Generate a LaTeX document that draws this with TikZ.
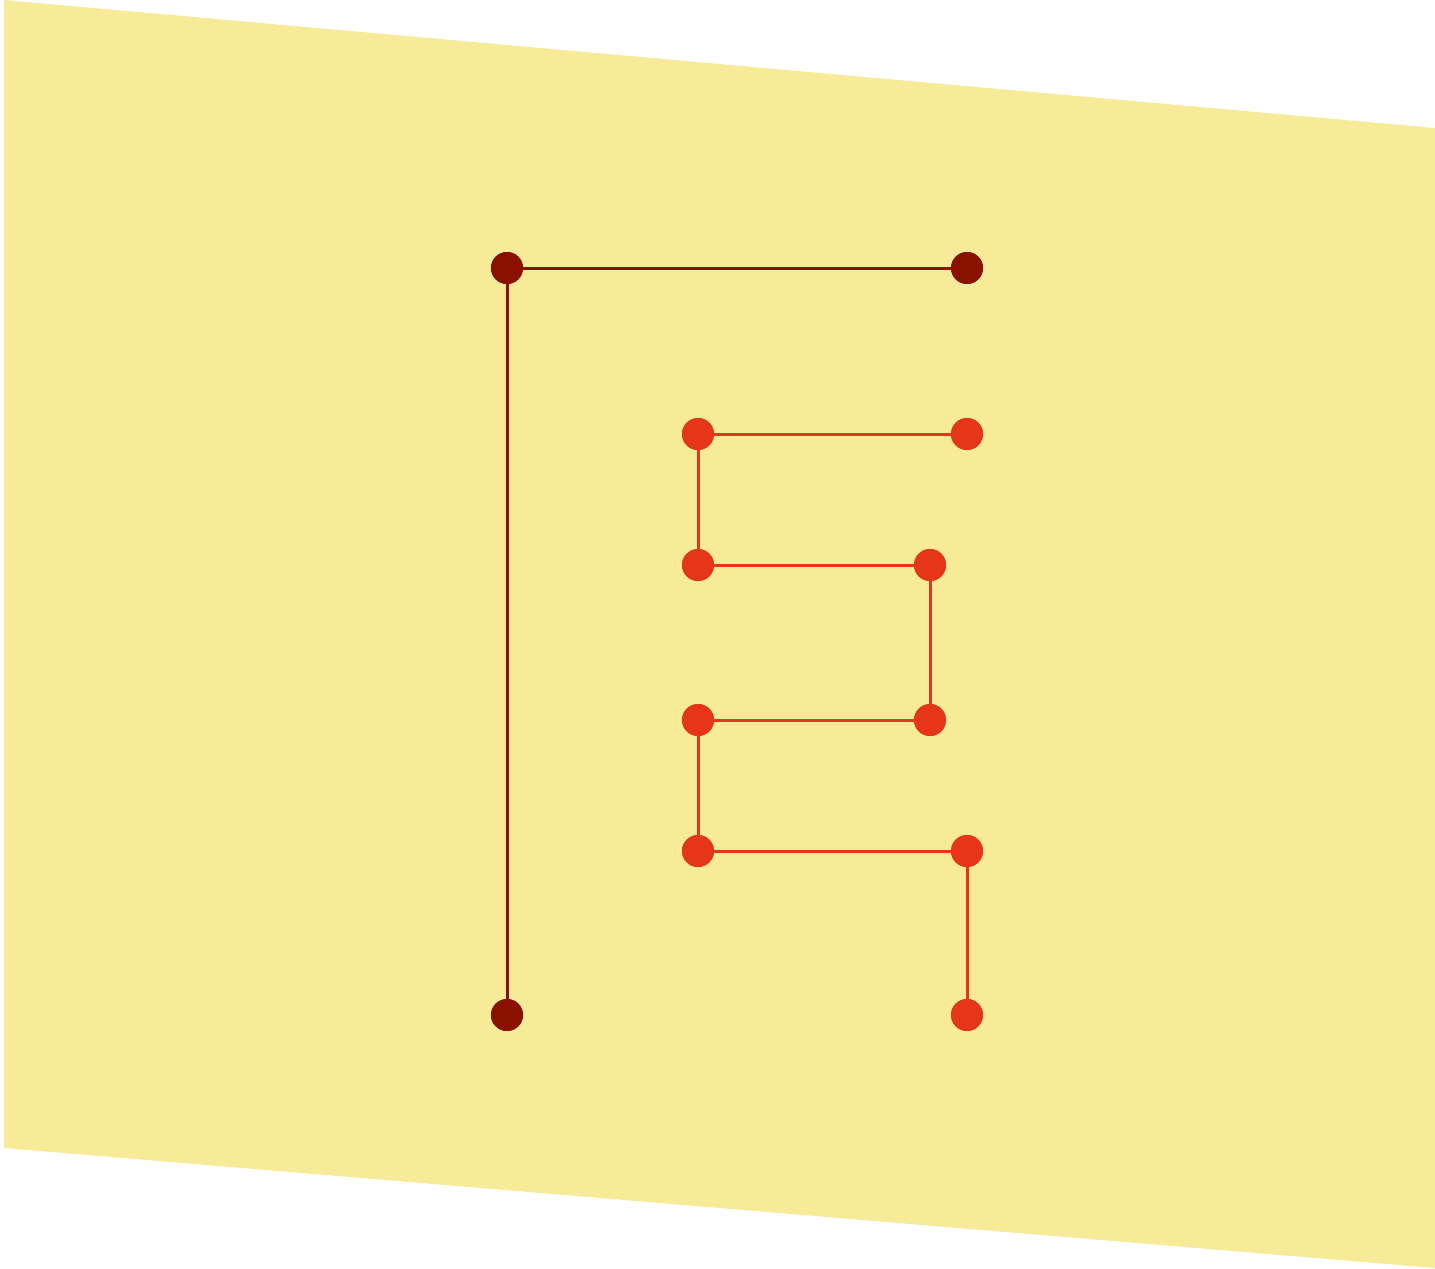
\documentclass[tikz,border=0pt]{standalone}
\definecolor{bandyellow}{HTML}{F7EA98}
\definecolor{darkdot}{HTML}{8A1000}
\definecolor{reddot}{HTML}{E5361A}
\begin{document}
\begin{tikzpicture}[x=1pt,y=-1pt,
  darkpt/.style={circle,fill=darkdot,inner sep=0pt,minimum size=32pt},
  redpt/.style={circle,fill=reddot,inner sep=0pt,minimum size=32pt},
  darkline/.style={draw=darkdot,line width=3pt},
  redline/.style={draw=reddot,line width=3pt}]
\useasboundingbox (0,0) rectangle (1435,1269);
\fill[bandyellow] (4,0) -- (1435,128) -- (1435,1268) -- (4,1148) -- cycle;
% dark nodes
\node[darkpt] (a) at (507,268) {};
\node[darkpt] (b) at (967,268) {};
\node[darkpt] (c) at (507,1015) {};
% red nodes
\node[redpt] (r1) at (698,434) {};
\node[redpt] (r2) at (967,434) {};
\node[redpt] (r3) at (698,565) {};
\node[redpt] (r4) at (930,565) {};
\node[redpt] (r5) at (698,720) {};
\node[redpt] (r6) at (930,720) {};
\node[redpt] (r7) at (698,851) {};
\node[redpt] (r8) at (967,851) {};
\node[redpt] (r9) at (967,1015) {};
\begin{scope}[on background layer/.style={}]
\end{scope}
\draw[darkline] (a.center) -- (b.center);
\draw[darkline] (a.center) -- (c.center);
\draw[redline] (r1.center) -- (r2.center);
\draw[redline] (r1.center) -- (r3.center);
\draw[redline] (r3.center) -- (r4.center);
\draw[redline] (r4.center) -- (r6.center);
\draw[redline] (r5.center) -- (r6.center);
\draw[redline] (r5.center) -- (r7.center);
\draw[redline] (r7.center) -- (r8.center);
\draw[redline] (r8.center) -- (r9.center);
% redraw dots on top
\foreach \n in {a,b,c}{\fill[darkdot] (\n) circle (16pt);}
\foreach \n in {r1,r2,r3,r4,r5,r6,r7,r8,r9}{\fill[reddot] (\n) circle (16pt);}
\end{tikzpicture}
\end{document}
